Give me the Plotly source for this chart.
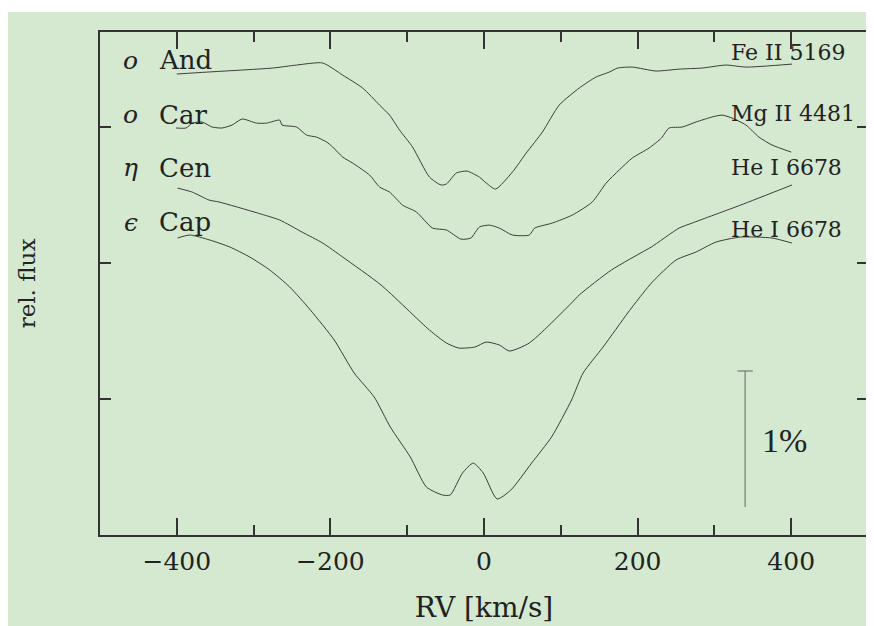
import plotly.graph_objects as go

# ---------------- data (RV in km/s, relative flux in % with vertical offsets) ----------------
rv_and = [-400, -361, -316, -275, -244, -210, -184, -158, -136, -123, -110, -93, -71, -56, -49, -36, -22,
          -6, 3, 15, 37, 55, 76, 98, 124, 146, 163, 174, 193, 224, 254, 284, 315, 341, 401]
flux_and = [3.390, 3.404, 3.419, 3.434, 3.456, 3.471, 3.382, 3.287, 3.162, 3.088, 2.978, 2.853, 2.632,
            2.574, 2.581, 2.662, 2.676, 2.632, 2.588, 2.544, 2.669, 2.809, 2.963, 3.162, 3.287, 3.368,
            3.404, 3.434, 3.441, 3.412, 3.426, 3.434, 3.456, 3.441, 3.463]

rv_car = [-401, -388, -380, -367, -354, -341, -328, -315, -296, -283, -266, -263, -244, -231, -218, -205,
          -197, -184, -171, -149, -136, -123, -106, -88, -67, -49, -30, -17, -6, 7, 20, 37, 59, 66, 89,
          115, 141, 159, 176, 193, 215, 231, 241, 258, 276, 297, 310, 323, 341, 358, 375, 400]
flux_car = [2.993, 2.993, 3.029, 3.037, 3.000, 2.993, 3.015, 3.059, 3.029, 3.029, 3.051, 3.015, 3.000,
            2.941, 2.926, 2.890, 2.853, 2.779, 2.735, 2.647, 2.559, 2.522, 2.426, 2.375, 2.257, 2.243,
            2.176, 2.184, 2.265, 2.279, 2.257, 2.206, 2.206, 2.257, 2.294, 2.353, 2.449, 2.588, 2.684,
            2.772, 2.846, 2.919, 2.993, 3.000, 3.037, 3.074, 3.088, 3.066, 3.015, 2.926, 2.868, 2.816]

rv_cen = [-399, -380, -358, -345, -295, -266, -237, -210, -184, -134, -71, -49, -33, -12, 3, 20, 33, 59,
          114, 124, 166, 211, 218, 254, 271, 334, 401]
flux_cen = [2.551, 2.522, 2.463, 2.449, 2.368, 2.316, 2.228, 2.147, 2.044, 1.838, 1.507, 1.412, 1.375,
            1.382, 1.419, 1.397, 1.353, 1.412, 1.706, 1.765, 1.949, 2.096, 2.118, 2.257, 2.294, 2.426, 2.574]

rv_cap = [-399, -383, -357, -331, -305, -279, -253, -226, -195, -169, -143, -122, -96, -75, -54, -44, -28,
          -14, -1, 17, 35, 62, 88, 114, 129, 155, 187, 197, 218, 250, 276, 302, 334, 375, 401]
flux_cap = [2.184, 2.206, 2.169, 2.118, 2.044, 1.949, 1.824, 1.654, 1.434, 1.191, 1.015, 0.794, 0.574,
            0.353, 0.294, 0.294, 0.456, 0.529, 0.456, 0.265, 0.331, 0.529, 0.721, 0.993, 1.191, 1.382,
            1.632, 1.706, 1.853, 2.022, 2.081, 2.154, 2.191, 2.184, 2.147]

greek = ["o", "o", "η", "ϵ"]
stars = ["And", "Car", "Cen", "Cap"]
lines = ["Fe II 5169", "Mg II 4481", "He I 6678", "He I 6678"]
star_label_y = [3.49, 3.09, 2.70, 2.30]
line_label_y = [3.55, 3.10, 2.70, 2.25]

x_tickvals = [-400, -200, 0, 200, 400]
x_ticktext = ["−400", "−200", "0", "200", "400"]
y_tickvals = [1, 2, 3]

scale_rv = 340
scale_low = 0.206
scale_len = 1.0
scale_label = "1%"

BG = "#d4e9cf"
INK = "#222222"
CURVE = "#3c3c3c"
SERIF = "DejaVu Serif"

fig = go.Figure()
series = [(rv_and, flux_and), (rv_car, flux_car), (rv_cen, flux_cen), (rv_cap, flux_cap)]
for rv, fl in series:
    fig.add_trace(go.Scatter(x=rv, y=fl, mode="lines",
                             line=dict(color=CURVE, width=1, shape="spline", smoothing=0.6),
                             hoverinfo="skip", showlegend=False))

anns = []
for g, s, yv in zip(greek, stars, star_label_y):
    anns.append(dict(x=-460, y=yv, xref="x", yref="y", text="<i>%s</i>" % g, showarrow=False,
                     xanchor="center", yanchor="middle",
                     font=dict(family=SERIF, size=25, color=INK)))
    anns.append(dict(x=-426, y=yv, xref="x", yref="y", text=s, showarrow=False,
                     xanchor="left", yanchor="middle",
                     font=dict(family=SERIF, size=26, color=INK)))
for t, yv in zip(lines, line_label_y):
    anns.append(dict(x=319, y=yv, xref="x", yref="y", text=t, showarrow=False,
                     xanchor="left", yanchor="middle",
                     font=dict(family=SERIF, size=22, color=INK)))
anns.append(dict(x=391, y=scale_low + 0.49 * scale_len, xref="x", yref="y", text=scale_label,
                 showarrow=False, xanchor="center", yanchor="middle",
                 font=dict(family="Liberation Serif", size=34, color=INK)))

shapes = [
    dict(type="rect", xref="paper", yref="paper", x0=-0.2, x1=1.2, y0=1.0398, y1=1.08,
         fillcolor="white", line=dict(width=0), layer="below"),
    dict(type="line", xref="x", yref="y", x0=scale_rv, x1=scale_rv, y0=scale_low,
         y1=scale_low + scale_len, line=dict(color="#777777", width=1.2)),
    dict(type="line", xref="x", yref="y", x0=scale_rv - 10, x1=scale_rv + 10,
         y0=scale_low + scale_len, y1=scale_low + scale_len, line=dict(color="#777777", width=1.2)),
]

fig.update_layout(
    width=874, height=626,
    margin=dict(l=92, r=14, t=24, b=99, autoexpand=False),
    paper_bgcolor=BG, plot_bgcolor=BG,
    annotations=anns, shapes=shapes,
    showlegend=False,
)
fig.update_xaxes(range=[-500, 500], showgrid=False, zeroline=False,
                 showline=True, linecolor="#333333", linewidth=1.5, mirror="ticks",
                 ticks="inside", ticklen=17, tickwidth=1.5, tickcolor="#333333",
                 tickvals=x_tickvals, ticktext=x_ticktext,
                 tickfont=dict(family=SERIF, size=25, color=INK),
                 ticklabelstandoff=3,
                 minor=dict(dtick=100, ticks="inside", ticklen=10, tickwidth=1.5, tickcolor="#333333"),
                 title=dict(text="RV [km/s]", standoff=23,
                            font=dict(family=SERIF, size=28, color=INK)))
fig.update_yaxes(range=[0, 3.699], showgrid=False, zeroline=False,
                 showline=True, linecolor="#333333", linewidth=1.5, mirror="ticks",
                 ticks="inside", ticklen=11, tickwidth=1.5, tickcolor="#333333",
                 tickvals=y_tickvals, showticklabels=False,
                 title=dict(text="rel. flux", standoff=56,
                            font=dict(family=SERIF, size=23, color=INK)))

fig.write_html("out.html")
